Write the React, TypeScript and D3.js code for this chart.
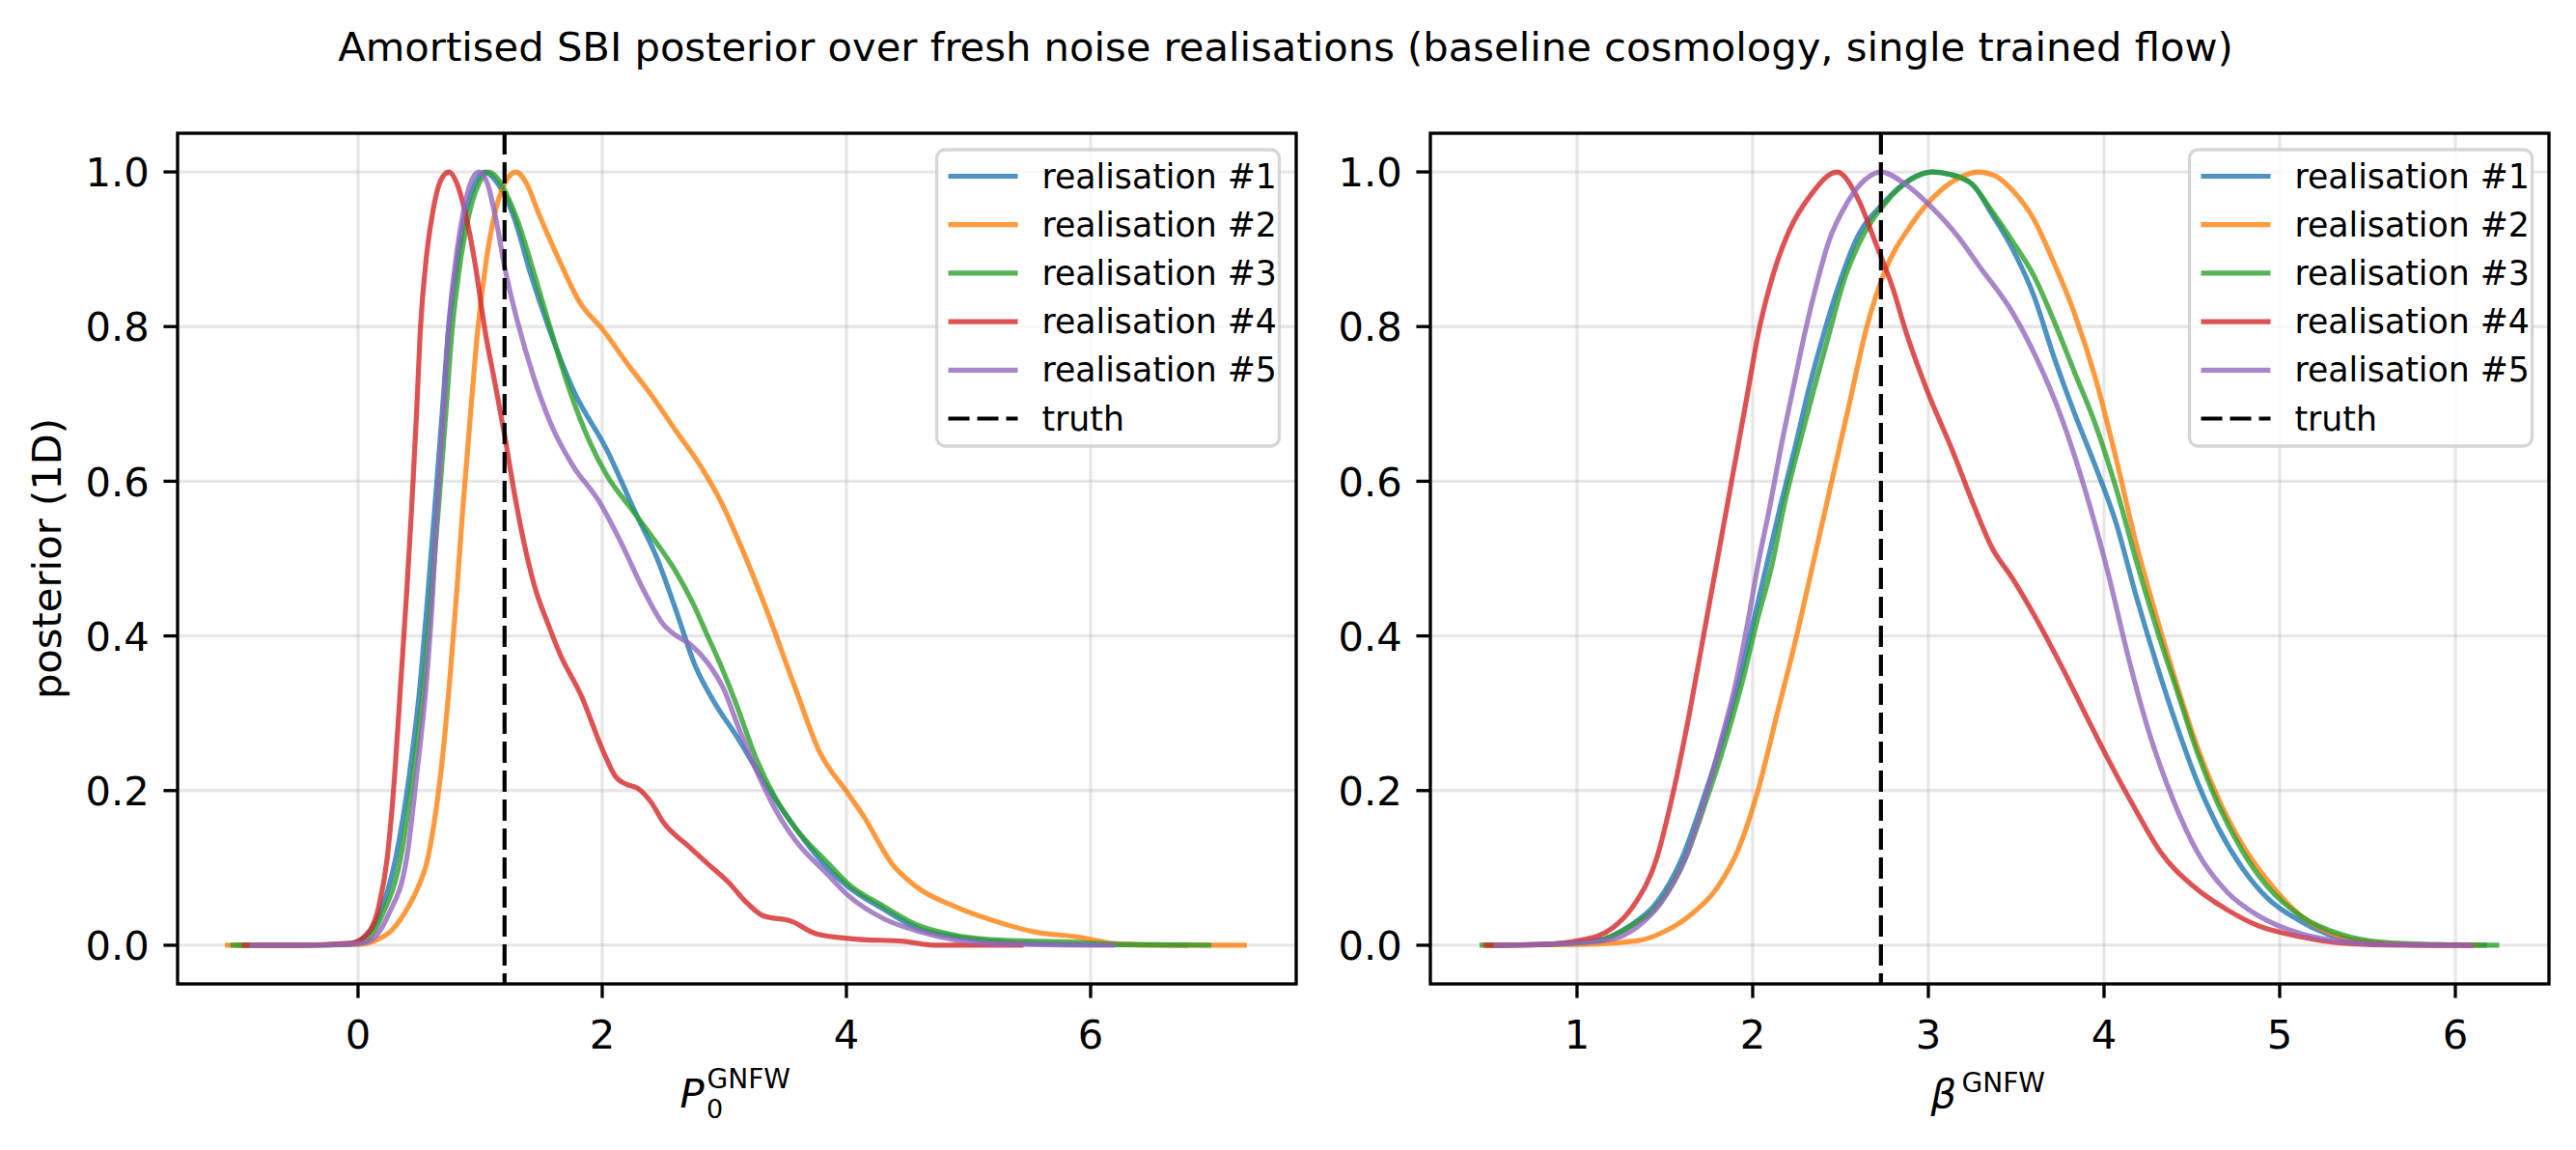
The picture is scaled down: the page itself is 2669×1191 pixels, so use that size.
import React from 'react';
import * as d3 from 'd3';

type Pt = [number, number];

const seriesLabels = ['realisation #1', 'realisation #2', 'realisation #3', 'realisation #4', 'realisation #5'];
const seriesColors = ['#1f77b4', '#ff7f0e', '#2ca02c', '#d62728', '#9467bd'];
const truthLabel = 'truth';
const titleText = 'Amortised SBI posterior over fresh noise realisations (baseline cosmology, single trained flow)';
const yLabelText = 'posterior (1D)';

// ---- P0 panel (left) ----
const p0Real1: Pt[] = [[-1.0,0],[-0.5,0],[-0.1,0.001],[0.01,0.006],[0.17,0.038],[0.31,0.114],[0.42,0.22],[0.51,0.34],[0.57,0.45],[0.63,0.568],[0.69,0.69],[0.74,0.795],[0.8,0.87],[0.88,0.946],[0.96,0.985],[1.04,1.0],[1.12,0.99],[1.2,0.97],[1.28,0.94],[1.41,0.87],[1.57,0.795],[1.76,0.719],[2.04,0.64],[2.27,0.56],[2.45,0.5],[2.60,0.435],[2.76,0.362],[2.93,0.311],[3.09,0.273],[3.35,0.205],[3.58,0.152],[3.85,0.099],[4.01,0.076],[4.31,0.046],[4.57,0.023],[4.89,0.011],[5.22,0.005],[5.8,0.001],[6.8,0]];
const p0Real2: Pt[] = [[-1.09,0],[-0.5,0],[0.0,0.001],[0.14,0.006],[0.28,0.02],[0.42,0.052],[0.5,0.078],[0.56,0.105],[0.63,0.165],[0.7,0.255],[0.76,0.36],[0.81,0.46],[0.86,0.568],[0.92,0.685],[0.98,0.795],[1.05,0.885],[1.12,0.946],[1.2,0.985],[1.295,1.0],[1.38,0.985],[1.48,0.946],[1.65,0.885],[1.81,0.833],[2.01,0.795],[2.22,0.749],[2.40,0.712],[2.60,0.666],[2.80,0.621],[2.99,0.568],[3.12,0.522],[3.35,0.432],[3.58,0.333],[3.78,0.25],[4.01,0.197],[4.14,0.167],[4.37,0.106],[4.57,0.076],[4.89,0.05],[5.22,0.031],[5.55,0.017],[5.88,0.011],[6.21,0.002],[6.6,0],[7.28,0]];
const p0Real3: Pt[] = [[-1.045,0],[-0.5,0],[-0.1,0.001],[0.06,0.006],[0.2,0.04],[0.35,0.114],[0.45,0.22],[0.54,0.34],[0.6,0.45],[0.66,0.568],[0.72,0.69],[0.77,0.795],[0.83,0.875],[0.91,0.946],[0.99,0.985],[1.07,1.0],[1.15,0.99],[1.22,0.97],[1.30,0.94],[1.44,0.87],[1.58,0.795],[1.73,0.719],[1.90,0.65],[2.04,0.607],[2.22,0.568],[2.40,0.53],[2.60,0.484],[2.75,0.44],[2.86,0.401],[2.96,0.366],[3.09,0.315],[3.26,0.242],[3.42,0.19],[3.58,0.152],[3.85,0.106],[4.01,0.08],[4.31,0.05],[4.57,0.027],[4.89,0.013],[5.22,0.007],[5.88,0.004],[6.3,0.001],[6.99,0]];
const p0Real4: Pt[] = [[-0.95,0],[-0.5,0],[-0.05,0.003],[0.10,0.02],[0.17,0.05],[0.24,0.114],[0.3,0.22],[0.35,0.34],[0.40,0.46],[0.44,0.568],[0.48,0.69],[0.51,0.795],[0.56,0.89],[0.61,0.946],[0.68,0.99],[0.745,1.0],[0.81,0.985],[0.88,0.946],[0.96,0.88],[1.04,0.795],[1.12,0.728],[1.2,0.66],[1.28,0.585],[1.36,0.52],[1.45,0.462],[1.55,0.418],[1.65,0.378],[1.83,0.322],[2.01,0.25],[2.11,0.218],[2.2,0.208],[2.29,0.203],[2.40,0.185],[2.50,0.159],[2.70,0.129],[2.86,0.106],[3.03,0.082],[3.19,0.054],[3.32,0.038],[3.55,0.031],[3.75,0.015],[4.08,0.008],[4.47,0.005],[4.73,0.0],[5.45,0]];
const p0Real5: Pt[] = [[-0.89,0],[-0.5,0],[0.0,0.002],[0.10,0.006],[0.25,0.04],[0.40,0.114],[0.48,0.22],[0.56,0.34],[0.61,0.45],[0.65,0.568],[0.7,0.69],[0.74,0.795],[0.8,0.885],[0.86,0.946],[0.92,0.985],[0.99,1.0],[1.06,0.985],[1.12,0.946],[1.21,0.87],[1.30,0.81],[1.44,0.734],[1.58,0.674],[1.76,0.62],[1.97,0.575],[2.15,0.522],[2.33,0.462],[2.50,0.415],[2.60,0.401],[2.73,0.388],[2.86,0.366],[2.99,0.333],[3.12,0.28],[3.26,0.227],[3.42,0.175],[3.58,0.136],[3.85,0.091],[4.01,0.065],[4.31,0.034],[4.57,0.019],[4.89,0.007],[5.22,0.002],[6.2,0]];
const p0Truth = 1.2;
const p0Ticks = [0, 2, 4, 6];
const p0Domain: [number, number] = [-1.478, 7.684];

// ---- beta panel (right) ----
const betaReal1: Pt[] = [[0.48,0],[0.8,0.001],[1.11,0.006],[1.30,0.025],[1.45,0.054],[1.60,0.114],[1.72,0.19],[1.82,0.26],[1.92,0.34],[2.0,0.415],[2.08,0.492],[2.16,0.57],[2.24,0.643],[2.32,0.72],[2.41,0.795],[2.5,0.86],[2.58,0.908],[2.75,0.961],[2.90,0.991],[3.02,1.0],[3.12,0.997],[3.25,0.984],[3.36,0.946],[3.48,0.90],[3.60,0.84],[3.71,0.764],[3.83,0.689],[3.95,0.62],[4.07,0.545],[4.18,0.454],[4.30,0.363],[4.42,0.28],[4.53,0.212],[4.65,0.152],[4.79,0.099],[4.93,0.061],[5.12,0.031],[5.35,0.009],[5.58,0.002],[5.9,0],[6.18,0]];
const betaReal2: Pt[] = [[0.5,0],[1.0,0.001],[1.35,0.006],[1.5,0.018],[1.65,0.04],[1.8,0.075],[1.92,0.125],[2.03,0.2],[2.14,0.3],[2.25,0.4],[2.35,0.5],[2.45,0.6],[2.55,0.7],[2.65,0.8],[2.75,0.87],[2.90,0.931],[3.07,0.976],[3.19,0.994],[3.28,1.0],[3.38,0.995],[3.48,0.976],[3.60,0.939],[3.71,0.885],[3.83,0.818],[3.95,0.734],[4.07,0.628],[4.18,0.522],[4.30,0.424],[4.42,0.333],[4.53,0.257],[4.65,0.19],[4.79,0.129],[4.93,0.084],[5.12,0.038],[5.35,0.011],[5.58,0.003],[5.9,0],[6.15,0]];
const betaReal3: Pt[] = [[0.445,0],[0.8,0.001],[1.12,0.006],[1.30,0.024],[1.47,0.054],[1.62,0.114],[1.74,0.19],[1.84,0.26],[1.94,0.34],[2.02,0.415],[2.11,0.492],[2.18,0.57],[2.26,0.643],[2.35,0.72],[2.44,0.795],[2.52,0.86],[2.60,0.905],[2.76,0.961],[2.90,0.99],[3.02,1.0],[3.12,0.997],[3.25,0.984],[3.36,0.95],[3.48,0.91],[3.60,0.866],[3.71,0.81],[3.83,0.742],[3.95,0.674],[4.07,0.59],[4.18,0.50],[4.30,0.409],[4.42,0.326],[4.53,0.25],[4.65,0.182],[4.79,0.121],[4.93,0.076],[5.12,0.038],[5.35,0.014],[5.58,0.004],[5.9,0.001],[6.25,0]];
const betaReal4: Pt[] = [[0.465,0],[0.8,0.001],[1.01,0.006],[1.2,0.022],[1.33,0.054],[1.45,0.11],[1.55,0.2],[1.64,0.3],[1.72,0.4],[1.80,0.5],[1.88,0.6],[1.96,0.7],[2.04,0.8],[2.12,0.87],[2.21,0.925],[2.33,0.97],[2.48,1.0],[2.60,0.965],[2.70,0.908],[2.80,0.848],[2.87,0.795],[2.99,0.719],[3.14,0.638],[3.26,0.568],[3.36,0.515],[3.48,0.474],[3.60,0.428],[3.76,0.36],[3.90,0.296],[4.02,0.242],[4.18,0.175],[4.32,0.121],[4.51,0.076],[4.70,0.046],[4.88,0.025],[5.12,0.011],[5.35,0.003],[5.7,0],[6.1,0]];
const betaReal5: Pt[] = [[0.525,0],[0.8,0.001],[1.16,0.006],[1.35,0.025],[1.475,0.054],[1.62,0.114],[1.73,0.19],[1.82,0.265],[1.905,0.34],[1.97,0.415],[2.03,0.492],[2.1,0.57],[2.16,0.643],[2.23,0.72],[2.30,0.795],[2.37,0.86],[2.43,0.908],[2.54,0.961],[2.64,0.99],[2.73,1.0],[2.87,0.984],[3.02,0.954],[3.17,0.916],[3.29,0.878],[3.48,0.818],[3.62,0.757],[3.76,0.681],[3.90,0.583],[4.02,0.484],[4.14,0.371],[4.25,0.28],[4.39,0.19],[4.53,0.121],[4.70,0.069],[4.88,0.038],[5.12,0.015],[5.35,0.005],[5.6,0.001],[6.10,0]];
const betaTruth = 2.73;
const betaTicks = [1, 2, 3, 4, 5, 6];
const betaDomain: [number, number] = [0.165, 6.533];

const yTicks = [0, 0.2, 0.4, 0.6, 0.8, 1.0];
const yDomain: [number, number] = [-0.05, 1.05];

// ---- layout ----
const W = 2669;
const H = 1191;
const FONT = "'DejaVu Sans', sans-serif";
const TICK_FS = 41.67;
const LEG_FS = 34.7;
const AX_TOP = 138;
const AX_BOTTOM = 1019;
const SPINE = 3.33;
const TICK_LEN = 14.58;

interface PanelProps {
  x0: number;
  x1: number;
  domain: [number, number];
  ticks: number[];
  series: Pt[][];
  truth: number;
  xLabel: 'p0' | 'beta';
  showYLabel: boolean;
}

function Panel({ x0, x1, domain, ticks, series, truth, xLabel, showYLabel }: PanelProps) {
  const x = d3.scaleLinear().domain(domain).range([x0, x1]);
  const y = d3.scaleLinear().domain(yDomain).range([AX_BOTTOM, AX_TOP]);
  const line = d3
    .line<Pt>()
    .x((d) => x(d[0]))
    .y((d) => y(d[1]))
    .curve(d3.curveMonotoneX);
  const cx = (x0 + x1) / 2;
  const cy = (AX_TOP + AX_BOTTOM) / 2;

  const legW = 355;
  const legRight = x1 - 17.5;
  const legLeft = legRight - legW;
  const legTop = AX_TOP + 17;
  const rowStep = 50.2;
  const row0 = AX_TOP + 44.5;
  const legBottom = legTop + 307;

  return (
    <g>
      {ticks.map((t) => (
        <line key={'gx' + t} x1={x(t)} x2={x(t)} y1={AX_TOP} y2={AX_BOTTOM} stroke="#b0b0b0" strokeOpacity={0.3} strokeWidth={3.33} />
      ))}
      {yTicks.map((t) => (
        <line key={'gy' + t} x1={x0} x2={x1} y1={y(t)} y2={y(t)} stroke="#b0b0b0" strokeOpacity={0.3} strokeWidth={3.33} />
      ))}
      {series.map((s, i) => (
        <path key={'s' + i} d={line(s) || ''} fill="none" stroke={seriesColors[i]} strokeOpacity={0.8} strokeWidth={5.2} strokeLinejoin="round" />
      ))}
      <line x1={x(truth)} x2={x(truth)} y1={AX_TOP} y2={AX_BOTTOM} stroke="#000" strokeWidth={4.2} strokeDasharray="22,8" />
      <rect x={x0} y={AX_TOP} width={x1 - x0} height={AX_BOTTOM - AX_TOP} fill="none" stroke="#000" strokeWidth={SPINE} />
      {ticks.map((t) => (
        <g key={'tx' + t}>
          <line x1={x(t)} x2={x(t)} y1={AX_BOTTOM} y2={AX_BOTTOM + TICK_LEN} stroke="#000" strokeWidth={SPINE} />
          <text x={x(t)} y={1086} textAnchor="middle" fontSize={TICK_FS} fontFamily={FONT}>
            {String(t)}
          </text>
        </g>
      ))}
      {yTicks.map((t) => (
        <g key={'ty' + t}>
          <line x1={x0 - TICK_LEN} x2={x0} y1={y(t)} y2={y(t)} stroke="#000" strokeWidth={SPINE} />
          <text x={x0 - TICK_LEN - 14.6} y={y(t) + 15.2} textAnchor="end" fontSize={TICK_FS} fontFamily={FONT}>
            {t.toFixed(1)}
          </text>
        </g>
      ))}
      {showYLabel && (
        <text transform={`translate(62.7, ${cy}) rotate(-90)`} textAnchor="middle" fontSize={TICK_FS} fontFamily={FONT}>
          {yLabelText}
        </text>
      )}
      {xLabel === 'p0' ? (
        <g fontFamily={FONT}>
          <text x={cx - 59} y={1146.7} fontSize={TICK_FS} fontStyle="italic">P</text>
          <text x={cx - 31.5} y={1158} fontSize={27}>0</text>
          <text x={cx - 31} y={1127} fontSize={28}>GNFW</text>
        </g>
      ) : (
        <g fontFamily={FONT}>
          <text x={cx - 61} y={1147} fontSize={TICK_FS} fontStyle="italic">β</text>
          <text x={cx - 29} y={1131} fontSize={28}>GNFW</text>
        </g>
      )}
      <rect x={legLeft} y={legTop} width={legW} height={legBottom - legTop} rx={9} ry={9} fill="#fff" fillOpacity={0.8} stroke="#cccccc" strokeOpacity={0.8} strokeWidth={3.33} />
      {seriesLabels.map((lab, i) => (
        <g key={'l' + i}>
          <line x1={legLeft + 12} x2={legLeft + 84} y1={row0 + i * rowStep} y2={row0 + i * rowStep} stroke={seriesColors[i]} strokeOpacity={0.8} strokeWidth={5.2} />
          <text x={legLeft + 109} y={row0 + i * rowStep + 12} fontSize={LEG_FS} fontFamily={FONT}>
            {lab}
          </text>
        </g>
      ))}
      <line x1={legLeft + 12} x2={legLeft + 84} y1={row0 + 5 * rowStep} y2={row0 + 5 * rowStep} stroke="#000" strokeWidth={4.2} strokeDasharray="22,8" />
      <text x={legLeft + 109} y={row0 + 5 * rowStep + 12} fontSize={LEG_FS} fontFamily={FONT}>
        {truthLabel}
      </text>
    </g>
  );
}

export default function App() {
  return (
    <div style={{ position: 'absolute', left: 0, top: 0 }}>
      <svg width={W} height={H} viewBox={`0 0 ${W} ${H}`} style={{ display: 'block', background: '#fff' }}>
        <rect x={0} y={0} width={W} height={H} fill="#fff" />
        <text x={1332} y={63} textAnchor="middle" fontSize={41.67} fontFamily={FONT}>
          {titleText}
        </text>
        <Panel
          x0={184}
          x1={1343}
          domain={p0Domain}
          ticks={p0Ticks}
          series={[p0Real1, p0Real2, p0Real3, p0Real4, p0Real5]}
          truth={p0Truth}
          xLabel="p0"
          showYLabel={true}
        />
        <Panel
          x0={1482}
          x1={2641}
          domain={betaDomain}
          ticks={betaTicks}
          series={[betaReal1, betaReal2, betaReal3, betaReal4, betaReal5]}
          truth={betaTruth}
          xLabel="beta"
          showYLabel={false}
        />
      </svg>
    </div>
  );
}
